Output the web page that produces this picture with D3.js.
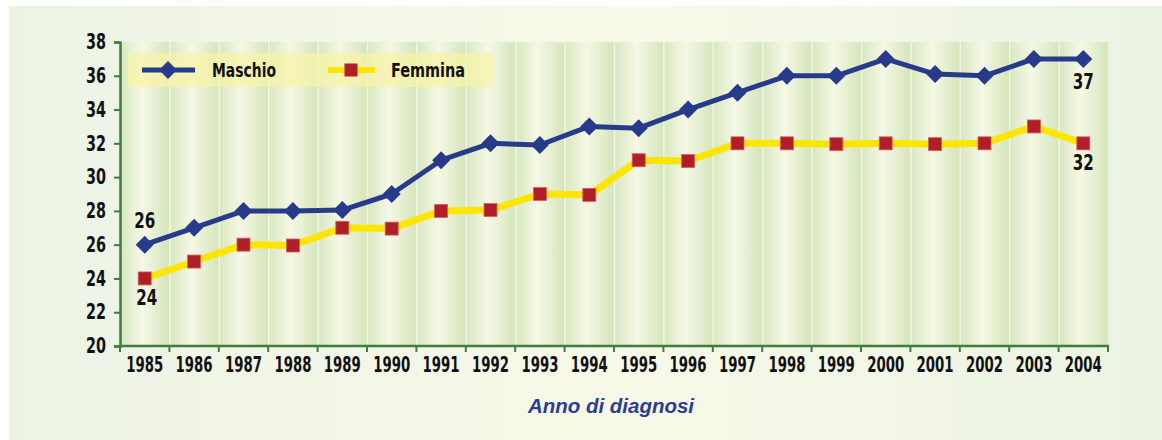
<!DOCTYPE html>
<html>
<head>
<meta charset="utf-8">
<script src="https://cdn.jsdelivr.net/npm/d3@7"></script>
<style>
  body { margin: 0; background: #fff; }
  svg text { font-family: "DejaVu Sans Condensed", "DejaVu Sans", sans-serif; font-stretch: condensed; }
</style>
</head>
<body>
<div id="chart"></div>
<script>
var years = ["1985","1986","1987","1988","1989","1990","1991","1992","1993","1994",
             "1995","1996","1997","1998","1999","2000","2001","2002","2003","2004"];
var maschio = [26, 27, 28, 28, 28.05, 29, 31, 32, 31.9, 33, 32.9, 34, 35, 36, 36, 37, 36.1, 36, 37, 37];
var femmina = [24, 25, 26, 25.95, 27, 26.95, 28, 28.05, 29, 28.95, 31, 30.95, 32, 32, 31.95, 32, 31.95, 32, 33, 32];
var yTicks = [20, 22, 24, 26, 28, 30, 32, 34, 36, 38];

var W = 1162, H = 440;
var mLeft = 120, mRight = 1108, mTop = 42, mBottom = 346;

var svg = d3.select("#chart").append("svg")
  .attr("width", W)
  .attr("height", H);

var defs = svg.append("defs");

var bg = defs.append("linearGradient").attr("id", "bg").attr("x1", 0).attr("x2", 1).attr("y1", 0).attr("y2", 0);
bg.append("stop").attr("offset", "0%").attr("stop-color", "#ecf3e5");
bg.append("stop").attr("offset", "55%").attr("stop-color", "#f8f9e8");
bg.append("stop").attr("offset", "100%").attr("stop-color", "#eaf3e4");

var col = defs.append("linearGradient").attr("id", "col").attr("x1", 0).attr("x2", 1).attr("y1", 0).attr("y2", 0);
col.append("stop").attr("offset", "0%").attr("stop-color", "#d7e7bf");
col.append("stop").attr("offset", "45%").attr("stop-color", "#f6f8e6");
col.append("stop").attr("offset", "100%").attr("stop-color", "#d4e5ba");

svg.append("rect")
  .attr("x", 9).attr("y", 6)
  .attr("width", W - 9).attr("height", H - 6)
  .attr("fill", "url(#bg)");

var x = d3.scaleBand().domain(years).range([mLeft, mRight]).padding(0);
var y = d3.scaleLinear().domain([20, 38]).range([mBottom, mTop]);

// column stripes
svg.append("g").selectAll("rect")
  .data(years)
  .enter().append("rect")
  .attr("x", d => x(d))
  .attr("y", mTop)
  .attr("width", x.bandwidth())
  .attr("height", mBottom - mTop)
  .attr("fill", "url(#col)");

svg.append("g").selectAll("line")
  .data(years.slice(1))
  .enter().append("line")
  .attr("x1", d => x(d) + 0.5).attr("x2", d => x(d) + 0.5)
  .attr("y1", mTop).attr("y2", mBottom)
  .attr("stroke", "#ffffff")
  .attr("stroke-opacity", 0.6)
  .attr("stroke-width", 1.5);

// legend box
var leg = svg.append("g");
leg.append("rect")
  .attr("x", 128).attr("y", 53)
  .attr("width", 365).attr("height", 34)
  .attr("fill", "#f7f3a8")
  .attr("opacity", 0.75);

// axes
var xAxis = svg.append("g")
  .attr("transform", `translate(0,${mBottom})`)
  .call(d3.axisBottom(x).tickSize(0).tickPadding(11));
xAxis.select(".domain").remove();
xAxis.selectAll("text")
  .attr("fill", "#111")
  .attr("textLength", 37)
  .attr("lengthAdjust", "spacingAndGlyphs")
  .style("font-size", "21px")
  .style("font-weight", "bold");

svg.append("g").selectAll("line")
  .data(d3.range(years.length + 1))
  .enter().append("line")
  .attr("x1", i => mLeft + i * x.bandwidth())
  .attr("x2", i => mLeft + i * x.bandwidth())
  .attr("y1", mBottom).attr("y2", mBottom + 6)
  .attr("stroke", "#3e7d3a")
  .attr("stroke-width", 2);

svg.append("line")
  .attr("x1", mLeft - 1).attr("x2", mRight + 1)
  .attr("y1", mBottom).attr("y2", mBottom)
  .attr("stroke", "#3e7d3a").attr("stroke-width", 2.5);

var yAxis = svg.append("g")
  .attr("transform", `translate(${mLeft},0)`)
  .call(d3.axisLeft(y).tickValues(yTicks).tickSize(6).tickPadding(8));
yAxis.select(".domain").attr("stroke", "#3e7d3a").attr("stroke-width", 2.5);
yAxis.selectAll(".tick line").attr("stroke", "#3e7d3a").attr("stroke-width", 2);
yAxis.selectAll("text")
  .attr("fill", "#111")
  .attr("textLength", 20)
  .attr("lengthAdjust", "spacingAndGlyphs")
  .style("font-size", "21px")
  .style("font-weight", "bold");

var cx = d => x(d) + x.bandwidth() / 2;
var line = d3.line().x((d, i) => cx(years[i])).y(d => y(d));

// Femmina
svg.append("path")
  .datum(femmina)
  .attr("d", line)
  .attr("fill", "none")
  .attr("stroke", "#ffe600")
  .attr("stroke-width", 7)
  .attr("stroke-linejoin", "round");

svg.append("g").selectAll("rect")
  .data(femmina)
  .enter().append("rect")
  .attr("x", (d, i) => cx(years[i]) - 6.5)
  .attr("y", d => y(d) - 6.5)
  .attr("width", 13).attr("height", 13)
  .attr("fill", "#b01f27")
  .attr("stroke", "#d46060")
  .attr("stroke-width", 0.8);

// Maschio
svg.append("path")
  .datum(maschio)
  .attr("d", line)
  .attr("fill", "none")
  .attr("stroke", "#283b8a")
  .attr("stroke-width", 5)
  .attr("stroke-linejoin", "round");

var diamond = "M0,-9L9,0L0,9L-9,0Z";
svg.append("g").selectAll("path")
  .data(maschio)
  .enter().append("path")
  .attr("transform", (d, i) => `translate(${cx(years[i])},${y(d)})`)
  .attr("d", diamond)
  .attr("fill", "#283b8a");

// legend items
leg.append("line")
  .attr("x1", 142).attr("x2", 195).attr("y1", 70).attr("y2", 70)
  .attr("stroke", "#283b8a").attr("stroke-width", 5);
leg.append("path")
  .attr("transform", "translate(168,70)")
  .attr("d", diamond)
  .attr("fill", "#283b8a");
leg.append("text")
  .attr("x", 212).attr("y", 77)
  .text("Maschio")
  .attr("fill", "#111")
  .attr("textLength", 64)
  .attr("lengthAdjust", "spacingAndGlyphs")
  .style("font-size", "20px")
  .style("font-weight", "bold");

leg.append("line")
  .attr("x1", 328).attr("x2", 375).attr("y1", 70).attr("y2", 70)
  .attr("stroke", "#ffe600").attr("stroke-width", 6);
leg.append("rect")
  .attr("x", 344.5).attr("y", 63.5).attr("width", 13).attr("height", 13)
  .attr("fill", "#b01f27");
leg.append("text")
  .attr("x", 391).attr("y", 77)
  .text("Femmina")
  .attr("fill", "#111")
  .attr("textLength", 74)
  .attr("lengthAdjust", "spacingAndGlyphs")
  .style("font-size", "20px")
  .style("font-weight", "bold");

// data labels
var last = years.length - 1;
var labels = [
  { x: cx(years[0]), y: y(maschio[0]) - 17, t: maschio[0] },
  { x: cx(years[0]) + 2, y: y(femmina[0]) + 27, t: femmina[0] },
  { x: cx(years[last]), y: y(maschio[last]) + 30, t: maschio[last] },
  { x: cx(years[last]), y: y(femmina[last]) + 27, t: femmina[last] }
];
svg.append("g").selectAll("text")
  .data(labels)
  .enter().append("text")
  .attr("x", d => d.x)
  .attr("y", d => d.y)
  .attr("text-anchor", "middle")
  .text(d => d.t)
  .attr("fill", "#111")
  .attr("textLength", 21)
  .attr("lengthAdjust", "spacingAndGlyphs")
  .style("font-size", "21px")
  .style("font-weight", "bold");

// axis title
svg.append("text")
  .attr("x", 611).attr("y", 413)
  .attr("text-anchor", "middle")
  .text("Anno di diagnosi")
  .attr("fill", "#2b3d90")
  .attr("textLength", 166)
  .attr("lengthAdjust", "spacingAndGlyphs")
  .style("font-family", "'Liberation Sans', sans-serif")
  .style("font-style", "italic")
  .style("font-weight", "bold")
  .style("font-size", "20px");
</script>
</body>
</html>
